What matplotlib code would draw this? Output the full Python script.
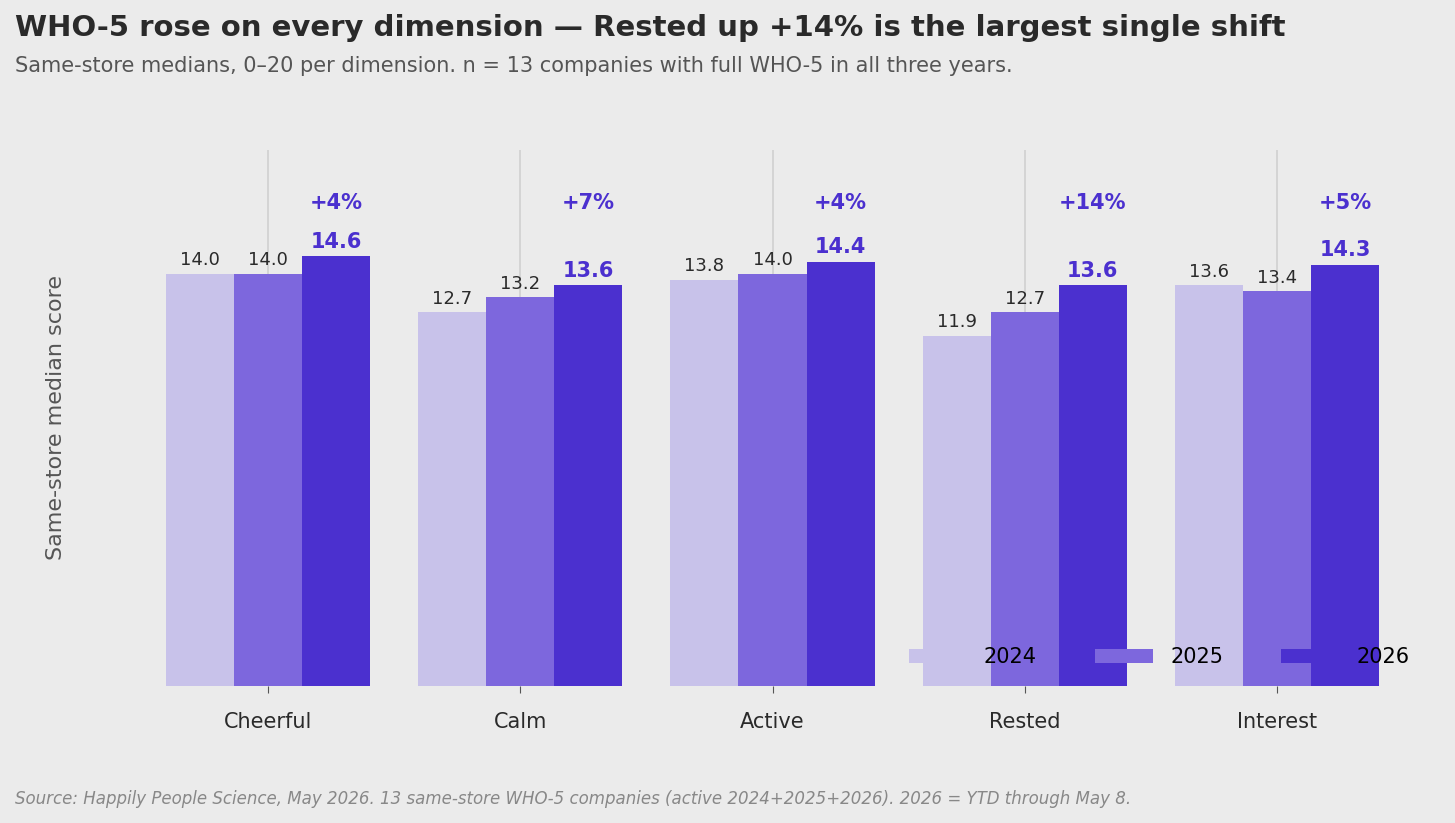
#!/usr/bin/env python3
import numpy as np
import matplotlib
matplotlib.use('Agg')
import matplotlib.pyplot as plt

dims = ['Cheerful', 'Calm', 'Active', 'Rested', 'Interest']
v2024 = [14.0, 12.7, 13.8, 11.9, 13.6]
v2025 = [14.0, 13.2, 14.0, 12.7, 13.4]
v2026 = [14.6, 13.6, 14.4, 13.6, 14.3]
shift = ['+4%', '+7%', '+4%', '+14%', '+5%']

bg = '#EBEBEB'
colors = ['#C8C2EA', '#7D67DD', '#4B30CF']

fig = plt.figure(figsize=(14.55, 8.23), dpi=100, facecolor=bg)
ax = fig.add_axes([142 / 1455, 137 / 823, 1261 / 1455, 536 / 823], facecolor=bg)

x = np.arange(len(dims))
w = 0.27
for i, (vals, c, lab) in enumerate(zip([v2024, v2025, v2026], colors, ['2024', '2025', '2026'])):
    ax.bar(x + (i - 1) * w, vals, w, color=c, label=lab, zorder=2)
    for xi, v in zip(x, vals):
        if i < 2:
            ax.text(xi + (i - 1) * w, v + 0.15, f'{v:.1f}', ha='center', va='bottom',
                    fontsize=13, color='#2a2a2a')
        else:
            ax.text(xi + w, v + 0.15, f'{v:.1f}', ha='center', va='bottom',
                    fontsize=15, color=colors[2], fontweight='bold')
for xi, s in zip(x, shift):
    ax.text(xi + w, 16.4, s, ha='center', va='center', fontsize=15,
            color=colors[2], fontweight='bold')

ax.set_xlim(-0.5, 4.5)
ax.set_ylim(0, 18.2)
ax.set_xticks(x)
ax.set_xticklabels(dims, fontsize=15, color='#2a2a2a')
ax.set_yticks([])
ax.grid(axis='x', color='#d0d0d0', lw=1.2, zorder=0)
for s in ax.spines.values():
    s.set_visible(False)
ax.tick_params(axis='x', length=5, color='#555555', pad=14)
ax.set_ylabel('Same-store median score', fontsize=16, color='#555555', labelpad=55)
ax.legend(loc='lower right', ncol=3, frameon=False, fontsize=15,
          bbox_to_anchor=(1.02, 0.0), handlelength=2.8, columnspacing=2.8)

fig.text(15 / 1455, 1 - 28 / 823, 'WHO-5 rose on every dimension — Rested up +14% is the largest single shift',
         fontsize=21, fontweight='bold', color='#2a2a2a', va='center')
fig.text(15 / 1455, 1 - 66 / 823, 'Same-store medians, 0–20 per dimension. n = 13 companies with full WHO-5 in all three years.',
         fontsize=15, color='#555555', va='center')
fig.text(15 / 1455, 1 - 799 / 823, 'Source: Happily People Science, May 2026. 13 same-store WHO-5 companies (active 2024+2025+2026). 2026 = YTD through May 8.',
         fontsize=12, color='#888888', style='italic', va='center')

fig.savefig('out.png', dpi=100, facecolor=bg)
